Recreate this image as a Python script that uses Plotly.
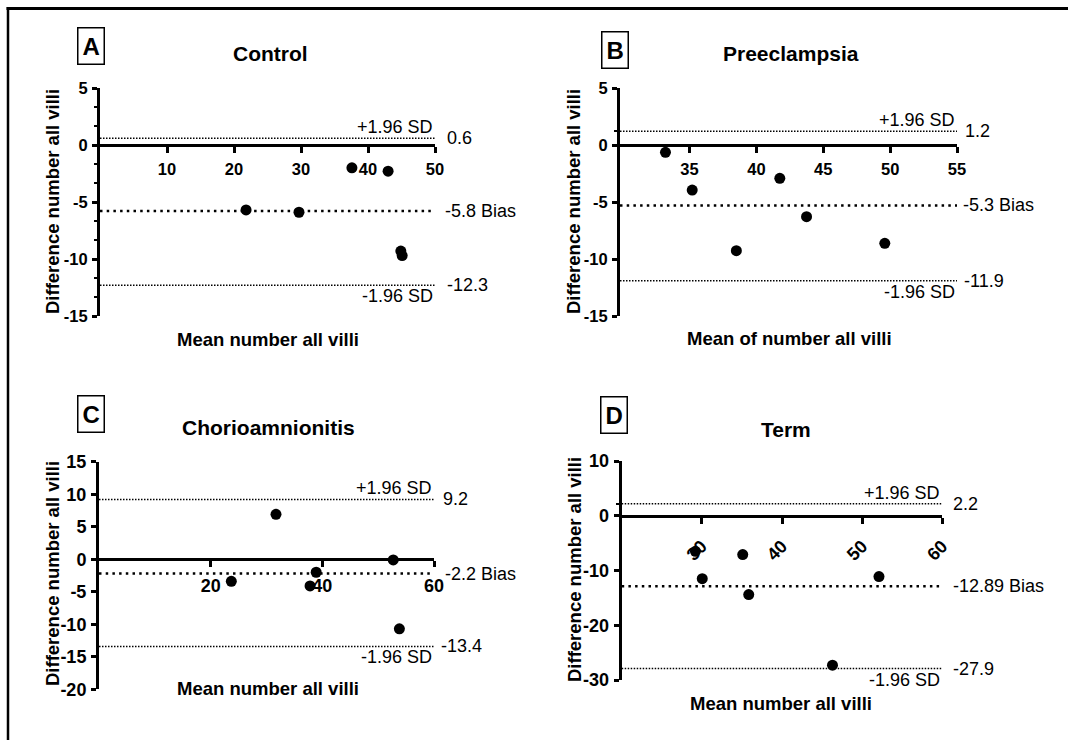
import plotly.graph_objects as go

W, H = 1068, 740
FONT = "Liberation Sans, Arial, sans-serif"

# ---------------- data ----------------
panel_letters = ["A", "B", "C", "D"]
panel_titles = ["Control", "Preeclampsia", "Chorioamnionitis", "Term"]
x_titles = ["Mean number all villi", "Mean of number all villi",
            "Mean number all villi", "Mean number all villi"]
y_title = "Difference number all villi"

ctrl_mean = [37.6, 43.0, 21.8, 29.7, 44.9, 45.1]
ctrl_diff = [-2.0, -2.3, -5.7, -5.9, -9.3, -9.7]
ctrl_limits = [0.6, -5.8, -12.3]           # upper SD, bias, lower SD
ctrl_limit_labels = ["0.6", "-5.8 Bias", "-12.3"]

pre_mean = [33.2, 35.2, 38.5, 41.75, 43.75, 49.6]
pre_diff = [-0.64, -3.95, -9.27, -2.92, -6.29, -8.62]
pre_limits = [1.2, -5.3, -11.9]
pre_limit_labels = ["1.2", "-5.3 Bias", "-11.9"]

chorio_mean = [31.7, 23.7, 38.9, 37.8, 52.7, 53.8]
chorio_diff = [6.9, -3.4, -2.0, -4.1, -0.1, -10.7]
chorio_limits = [9.2, -2.2, -13.4]
chorio_limit_labels = ["9.2", "-2.2 Bias", "-13.4"]

term_mean = [29.2, 30.05, 35.1, 35.85, 52.1, 46.3]
term_diff = [-6.5, -11.5, -7.1, -14.4, -11.1, -27.3]
term_limits = [2.2, -12.89, -27.9]
term_limit_labels = ["2.2", "-12.89 Bias", "-27.9"]

ctrl_xticks = [10, 20, 30, 40, 50]
ctrl_yticks = [-15, -10, -5, 0, 5]
pre_xticks = [35, 40, 45, 50, 55]
pre_yticks = [-15, -10, -5, 0, 5]
chorio_xticks = [20, 40, 60]
chorio_yticks = [-20, -15, -10, -5, 0, 5, 10, 15]
term_xticks = [30, 40, 50, 60]
term_yticks = [-30, -20, -10, 0, 10]

ctrl_xrange, ctrl_yrange = [0, 50], [-15, 5]
pre_xrange, pre_yrange = [29.8, 55], [-15, 5]
chorio_xrange, chorio_yrange = [0, 60], [-20, 15]
term_xrange, term_yrange = [20, 60], [-30, 10]

sd_text_upper = "+1.96 SD"
sd_text_lower = "-1.96 SD"

# ---------------- layout geometry (pixels) ----------------
panels = [
    dict(mean=ctrl_mean, diff=ctrl_diff, lim=ctrl_limits, lab=ctrl_limit_labels,
         xt=ctrl_xticks, yt=ctrl_yticks, xr=ctrl_xrange, yr=ctrl_yrange,
         px=(100, 435), py=(316, 88), tickfs=16.5, xangle=0, minor_y=dict(dtick=5/3, tick0=0),
         box=(91, 46.5), title=(270, 53), xtitle=(268, 339), ytitle=(52, 202),
         xshift=[10, 8, 10], standoff=2),
    dict(mean=pre_mean, diff=pre_diff, lim=pre_limits, lab=pre_limit_labels,
         xt=pre_xticks, yt=pre_yticks, xr=pre_xrange, yr=pre_yrange,
         px=(620, 957), py=(316, 88), tickfs=16.5, xangle=0, minor_y=dict(tickvals=[pre_limits[0]]),
         box=(615, 50), title=(791, 53), xtitle=(789, 338), ytitle=(573, 202),
         xshift=[6, 4, 5], standoff=2),
    dict(mean=chorio_mean, diff=chorio_diff, lim=chorio_limits, lab=chorio_limit_labels,
         xt=chorio_xticks, yt=chorio_yticks, xr=chorio_xrange, yr=chorio_yrange,
         px=(99, 434), py=(689.3, 461.7), tickfs=18, xangle=0, minor_y=None,
         box=(91, 414), title=(268, 427), xtitle=(268, 688), ytitle=(52, 574),
         xshift=[7, 9, 5], standoff=3),
    dict(mean=term_mean, diff=term_diff, lim=term_limits, lab=term_limit_labels,
         xt=term_xticks, yt=term_yticks, xr=term_xrange, yr=term_yrange,
         px=(621.7, 942.3), py=(680, 461), tickfs=18, xangle=-45, minor_y=dict(tickvals=[term_limits[0]]),
         box=(614, 414.5), title=(786, 429), xtitle=(781, 703), ytitle=(574, 570),
         xshift=[9, 9, 9], standoff=5),
]

fig = go.Figure()
annotations = []
shapes = []

def fx(p):
    return p / W

def fy(p):
    return 1 - p / H

for i, p in enumerate(panels):
    n = "" if i == 0 else str(i + 1)
    xa, ya = "x" + n, "y" + n
    xd = [fx(p["px"][0]), fx(p["px"][1])]
    yd = [fy(p["py"][0]), fy(p["py"][1])]
    ymin, ymax = p["yr"]
    zero_pos = yd[0] + (0 - ymin) / (ymax - ymin) * (yd[1] - yd[0])

    fig.add_trace(go.Scatter(
        x=p["mean"], y=p["diff"], mode="markers", xaxis=xa, yaxis=ya,
        marker=dict(size=11, color="black"), showlegend=False, cliponaxis=False,
        hoverinfo="skip"))

    xkey = "xaxis" + n
    ykey = "yaxis" + n
    xax = dict(domain=xd, range=p["xr"], anchor="free", position=zero_pos, automargin=False,
               showline=True, linewidth=3, linecolor="black", showgrid=False,
               zeroline=False, ticks="outside", ticklen=6, tickwidth=3, tickcolor="black",
               tickvals=p["xt"], ticktext=[str(v) for v in p["xt"]],
               tickfont=dict(family=FONT, size=p["tickfs"], color="black", weight="bold"),
               tickangle=p["xangle"], ticklabelstandoff=p["standoff"], fixedrange=True)
    yax = dict(domain=yd, range=p["yr"], anchor=xa, showline=True, linewidth=3, automargin=False,
               linecolor="black", showgrid=False, zeroline=False, ticks="outside",
               ticklen=5, tickwidth=2.5, tickcolor="black",
               tickvals=p["yt"], ticktext=[str(v) for v in p["yt"]],
               tickfont=dict(family=FONT, size=p["tickfs"], color="black", weight="bold"),
               ticklabelstandoff=1, fixedrange=True)
    if p["minor_y"] is not None:
        m = dict(ticks="outside", ticklen=3, tickwidth=2, tickcolor="black", showgrid=False)
        m.update(p["minor_y"])
        yax["minor"] = m
    fig.update_layout({xkey: xax, ykey: yax})

    x0, x1 = p["xr"]
    up, bias, low = p["lim"]
    # limit lines
    for val, w, dash in [(up, 1.5, "1.5px,1.5px"), (bias, 2.5, "2.5px,4.2px"), (low, 1.5, "1.5px,1.5px")]:
        shapes.append(dict(type="line", xref=xa, yref=ya, x0=x0, x1=x1, y0=val, y1=val,
                           line=dict(color="black", width=w, dash=dash), layer="below"))
    # value labels
    for val, txt, xs in zip(p["lim"], p["lab"], p["xshift"]):
        annotations.append(dict(xref=xa, yref=ya, x=x1, y=val, text=txt, showarrow=False,
                                xanchor="left", yanchor="middle", xshift=xs,
                                font=dict(family=FONT, size=18, color="black")))
    annotations.append(dict(xref=xa, yref=ya, x=x1, y=up, text=sd_text_upper, showarrow=False,
                            xanchor="right", yanchor="bottom", yshift=-1,
                            font=dict(family=FONT, size=18, color="black")))
    annotations.append(dict(xref=xa, yref=ya, x=x1, y=low, text=sd_text_lower, showarrow=False,
                            xanchor="right", yanchor="top", yshift=1,
                            font=dict(family=FONT, size=18, color="black")))

    # panel letter box
    annotations.append(dict(xref="paper", yref="paper", x=fx(p["box"][0]), y=fy(p["box"][1]),
                            text="<b>" + panel_letters[i] + "</b>", showarrow=False,
                            xanchor="center", yanchor="middle", bordercolor="black",
                            borderwidth=1.5, borderpad=4,
                            font=dict(family=FONT, size=24, color="black")))
    # title
    annotations.append(dict(xref="paper", yref="paper", x=fx(p["title"][0]), y=fy(p["title"][1]),
                            text="<b>" + panel_titles[i] + "</b>", showarrow=False,
                            xanchor="center", yanchor="middle",
                            font=dict(family=FONT, size=21, color="black")))
    # axis titles
    annotations.append(dict(xref="paper", yref="paper", x=fx(p["xtitle"][0]), y=fy(p["xtitle"][1]),
                            text="<b>" + x_titles[i] + "</b>", showarrow=False,
                            xanchor="center", yanchor="middle",
                            font=dict(family=FONT, size=18.5, color="black")))
    annotations.append(dict(xref="paper", yref="paper", x=fx(p["ytitle"][0]), y=fy(p["ytitle"][1]),
                            text="<b>" + y_title + "</b>", showarrow=False, textangle=-90,
                            xanchor="center", yanchor="middle",
                            font=dict(family=FONT, size=18.5, color="black")))

# outer frame (top and left edges visible)
shapes.append(dict(type="line", xref="paper", yref="paper", x0=fx(6.5), x1=1, y0=fy(8.5), y1=fy(8.5),
                   line=dict(color="black", width=3)))
shapes.append(dict(type="line", xref="paper", yref="paper", x0=fx(8), x1=fx(8), y0=0, y1=fy(7),
                   line=dict(color="black", width=2.5)))

fig.update_layout(template="none", width=W, height=H, margin=dict(l=0, r=0, t=0, b=0, pad=0),
                  paper_bgcolor="white", plot_bgcolor="white",
                  annotations=annotations, shapes=shapes, showlegend=False,
                  font=dict(family=FONT, color="black"))

fig.write_html("out.html")
